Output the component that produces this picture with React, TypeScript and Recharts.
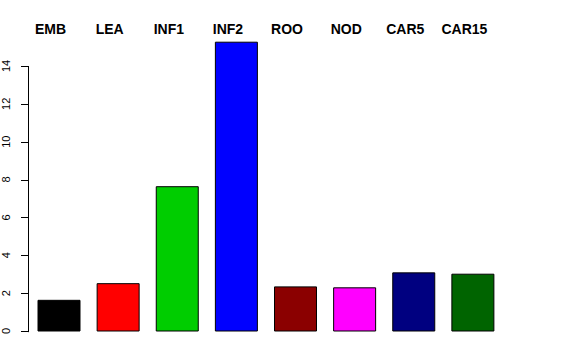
import { BarChart, Bar, XAxis, YAxis, Cell } from 'recharts';

const categories = ['EMB', 'LEA', 'INF1', 'INF2', 'ROO', 'NOD', 'CAR5', 'CAR15'];
const values = [1.62, 2.5, 7.62, 15.25, 2.33, 2.28, 3.07, 3.0];
const colors = ['#000000', '#FF0000', '#00CD00', '#0000FF', '#8B0000', '#FF00FF', '#000080', '#006400'];
const yTicks = [0, 2, 4, 6, 8, 10, 12, 14];
const yMax = 16;

const data = categories.map((name, i) => ({ name, value: values[i] }));

const font = '"Liberation Sans", Arial, Helvetica, sans-serif';

function TopTick(props: any) {
  const { x, payload } = props;
  return (
    <text x={x - 8} y={34} textAnchor="middle" fontFamily={font} fontSize={14} fontWeight="bold" fill="#000">
      {payload.value}
    </text>
  );
}

function LeftTick(props: any) {
  const { y, payload, height } = props;
  const axisX = 28;
  const plotH = Number(height) > 0 ? Number(height) : 303;
  const unit = plotH / yMax;
  const isTop = payload.value === yTicks[yTicks.length - 1];
  const ty = Math.round(Number(y));
  return (
    <g>
      <rect x={axisX - 7} y={ty} width={8} height={1} fill="#000" stroke="none" />
      {isTop && <rect x={axisX} y={ty} width={1} height={payload.value * unit + 1} fill="#000" stroke="none" />}
      <text
        x={10}
        y={y}
        transform={`rotate(-90, 10, ${y})`}
        textAnchor="middle"
        fontFamily={font}
        fontSize={11}
        fill="#000"
      >
        {payload.value}
      </text>
    </g>
  );
}

export default function App() {
  return (
    <div style={{ position: 'absolute', left: 0, top: 0, background: '#fff' }}>
      <BarChart width={576} height={360} data={data} margin={{ top: 8, right: 74, bottom: 29, left: 0 }} barSize={42}>
        <XAxis dataKey="name" orientation="top" height={20} axisLine={false} tickLine={false} tick={<TopTick />} interval={0} />
        <YAxis
          domain={[0, yMax]}
          ticks={yTicks}
          width={29}
          axisLine={false}
          tickLine={false}
          tick={<LeftTick />}
          interval={0}
        />
        <Bar dataKey="value" stroke="#000" strokeWidth={1} isAnimationActive={false}>
          {data.map((d, i) => (
            <Cell key={d.name} fill={colors[i]} />
          ))}
        </Bar>
      </BarChart>
    </div>
  );
}
